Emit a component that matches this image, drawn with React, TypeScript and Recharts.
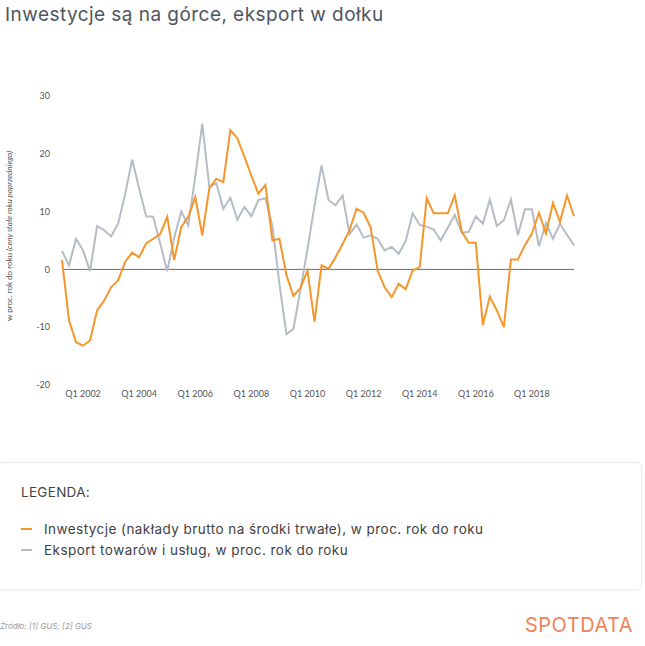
import React from "react";
import { LineChart, Line, XAxis, YAxis, ReferenceLine } from "recharts";

const quarters = [
  "Q2 2001", "Q3 2001", "Q4 2001",
  "Q1 2002", "Q2 2002", "Q3 2002", "Q4 2002",
  "Q1 2003", "Q2 2003", "Q3 2003", "Q4 2003",
  "Q1 2004", "Q2 2004", "Q3 2004", "Q4 2004",
  "Q1 2005", "Q2 2005", "Q3 2005", "Q4 2005",
  "Q1 2006", "Q2 2006", "Q3 2006", "Q4 2006",
  "Q1 2007", "Q2 2007", "Q3 2007", "Q4 2007",
  "Q1 2008", "Q2 2008", "Q3 2008", "Q4 2008",
  "Q1 2009", "Q2 2009", "Q3 2009", "Q4 2009",
  "Q1 2010", "Q2 2010", "Q3 2010", "Q4 2010",
  "Q1 2011", "Q2 2011", "Q3 2011", "Q4 2011",
  "Q1 2012", "Q2 2012", "Q3 2012", "Q4 2012",
  "Q1 2013", "Q2 2013", "Q3 2013", "Q4 2013",
  "Q1 2014", "Q2 2014", "Q3 2014", "Q4 2014",
  "Q1 2015", "Q2 2015", "Q3 2015", "Q4 2015",
  "Q1 2016", "Q2 2016", "Q3 2016", "Q4 2016",
  "Q1 2017", "Q2 2017", "Q3 2017", "Q4 2017",
  "Q1 2018", "Q2 2018", "Q3 2018", "Q4 2018",
  "Q1 2019", "Q2 2019", "Q3 2019",
];

const inwestycje = [
  1.6, -8.8, -12.6, -13.2, -12.3, -7.1, -5.4, -3.1, -1.9, 1.3,
  2.9, 2.1, 4.5, 5.3, 6.1, 9.1, 1.6, 7.3, 9.1, 12.5,
  5.9, 14.0, 15.7, 15.1, 24.1, 22.7, 19.5, 16.2, 13.1, 14.6,
  5.0, 5.3, -1.0, -4.6, -3.2, -0.2, -9.1, 0.7, 0.1, 2.1,
  4.4, 6.8, 10.5, 9.8, 7.3, -0.2, -3.1, -4.8, -2.5, -3.4,
  -0.2, 0.4, 12.3, 9.7, 9.7, 9.7, 12.8, 6.5, 4.6, 4.6,
  -9.6, -4.7, -7.1, -10.0, 1.7, 1.7, 4.2, 6.2, 9.8, 6.2,
  11.5, 8.2, 12.8, 9.2,
];

const eksport = [
  3.2, 0.7, 5.3, 3.3, -0.3, 7.5, 6.8, 5.7, 7.9, 13.0,
  19.0, 14.0, 9.2, 9.1, 4.5, -0.3, 5.5, 10.0, 7.6, 16.0,
  25.2, 14.3, 14.9, 10.5, 12.4, 8.6, 10.8, 9.2, 12.0, 12.3,
  7.5, -2.5, -11.2, -10.3, -3.5, 3.5, 11.0, 18.0, 12.0, 11.1,
  12.8, 6.1, 7.8, 5.5, 5.9, 5.3, 3.3, 3.9, 2.7, 4.9,
  9.7, 7.7, 7.4, 6.9, 5.0, 7.2, 9.4, 6.3, 6.5, 9.2,
  7.9, 12.1, 7.5, 8.5, 12.1, 5.9, 10.4, 10.4, 4.0, 8.0,
  5.3, 7.9, 6.0, 4.2,
];

const xTicks = ["Q1 2002", "Q1 2004", "Q1 2006", "Q1 2008", "Q1 2010", "Q1 2012", "Q1 2014", "Q1 2016", "Q1 2018"];
const yTicks = [-20, -10, 0, 10, 20, 30];

const legendLabels = [
  "Inwestycje (nakłady brutto na środki trwałe), w proc. rok do roku",
  "Eksport towarów i usług, w proc. rok do roku",
];

const ORANGE = "#f5962b";
const GREY = "#b5bcc4";

const data = quarters.map((q, i) => ({ q, inw: inwestycje[i], eks: eksport[i] }));

const YLabel = () => (
  <text
    x={12}
    y={236}
    transform="rotate(-90 12 236)"
    textAnchor="middle"
    fontSize={8}
    fill="#555"
    fontFamily="Lato, sans-serif"
  >
    <tspan>w proc. rok do roku </tspan>
    <tspan fontStyle="italic">(ceny stałe roku poprzedniego)</tspan>
  </text>
);

export default function App() {
  return (
    <div
      style={{
        position: "absolute",
        left: 0,
        top: 0,
        width: 645,
        height: 646,
        background: "#fff",
        overflow: "hidden",
        fontFamily: "Inter, sans-serif",
      }}
    >
      <div
        style={{
          position: "absolute",
          left: 5,
          top: 3,
          fontSize: 19,
          color: "#50555f",
          whiteSpace: "nowrap",
          letterSpacing: 0.45,
        }}
      >
        Inwestycje są na górce, eksport w dołku
      </div>

      <div style={{ position: "absolute", left: 0, top: 0 }}>
        <LineChart
          width={645}
          height={420}
          data={data}
          margin={{ top: 96, right: 71, bottom: 5, left: 0 }}
        >
          <XAxis
            dataKey="q"
            ticks={xTicks}
            interval={0}
            tickLine={false}
            axisLine={false}
            tickSize={0}
            tickMargin={6}
            height={30}
            tick={{ fontSize: 9, fill: "#555", fontFamily: "Lato, sans-serif" }}
          />
          <YAxis
            domain={[-20, 30]}
            ticks={yTicks}
            width={62}
            tickLine={false}
            axisLine={false}
            tickSize={0}
            tickMargin={12}
            tick={{ fontSize: 9, fill: "#555", fontFamily: "Lato, sans-serif" }}
            label={{ content: () => <YLabel /> }}
          />
          <ReferenceLine y={0} stroke="#6b6b6b" strokeWidth={1} />
          <Line
            type="linear"
            dataKey="eks"
            stroke={GREY}
            strokeWidth={2}
            dot={false}
            isAnimationActive={false}
          />
          <Line
            type="linear"
            dataKey="inw"
            stroke={ORANGE}
            strokeWidth={2}
            dot={false}
            isAnimationActive={false}
          />
        </LineChart>
      </div>

      <div
        style={{
          position: "absolute",
          left: -3,
          top: 462,
          width: 645,
          height: 128,
          border: "1px solid #ececec",
          borderRadius: 5,
          boxShadow: "0 1px 3px rgba(0,0,0,0.05)",
          boxSizing: "border-box",
        }}
      >
        <div
          style={{
            position: "absolute",
            left: 23,
            top: 21,
            fontSize: 13.5,
            letterSpacing: 0.3,
            color: "#444",
          }}
        >
          LEGENDA:
        </div>
        {legendLabels.map((t, i) => (
          <div
            key={t}
            style={{
              position: "absolute",
              left: 23,
              top: 58 + i * 21,
              fontSize: 13.5,
              letterSpacing: 0.45,
              color: "#3f3f46",
              whiteSpace: "nowrap",
              display: "flex",
              alignItems: "center",
            }}
          >
            <span
              style={{
                display: "inline-block",
                width: 11,
                height: 2.5,
                background: i === 0 ? ORANGE : GREY,
                marginRight: 12,
              }}
            />
            {t}
          </div>
        ))}
      </div>

      <div
        style={{
          position: "absolute",
          left: 0,
          top: 621,
          fontSize: 8,
          fontStyle: "italic",
          color: "#9a9a9a",
        }}
      >
        Źródło: [1] GUS; [2] GUS
      </div>
      <div
        style={{
          position: "absolute",
          left: 525,
          top: 613,
          fontSize: 20,
          color: "#ef835a",
          letterSpacing: 0.5,
        }}
      >
        SPOTDATA
      </div>
    </div>
  );
}
